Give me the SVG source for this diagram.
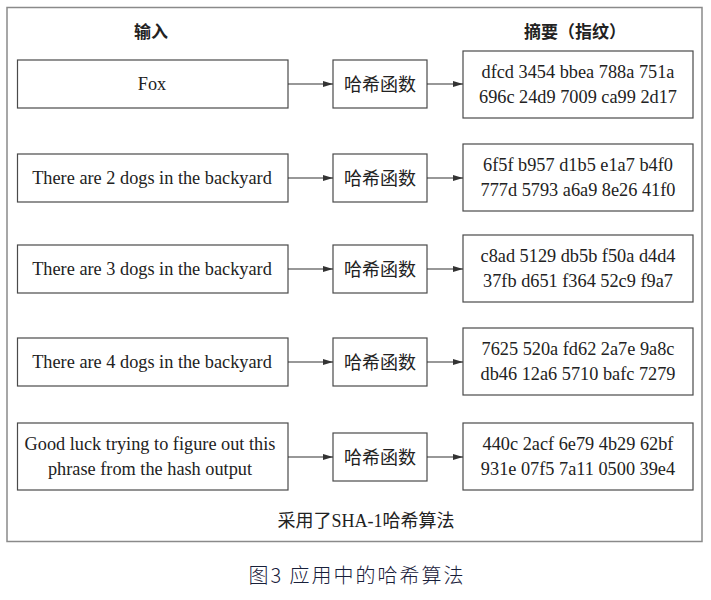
<svg xmlns="http://www.w3.org/2000/svg" width="711" height="600" viewBox="0 0 711 600">
<style>
.frame{fill:none;stroke:#8a8a8a;stroke-width:1.5}
.box{fill:#fff;stroke:#4a4a4a;stroke-width:1.2}
.en{font-family:"Liberation Serif","Noto Sans CJK SC",serif;font-size:18.3px;fill:#222;text-anchor:middle}
.cj{font-family:"Noto Sans CJK SC",sans-serif;font-size:18px;fill:#222;text-anchor:middle}
.hd{font-family:"Noto Sans CJK SC",sans-serif;font-size:17px;font-weight:bold;fill:#222;text-anchor:middle}
.hdt{font-family:"Noto Sans CJK TC",sans-serif;font-size:17px;font-weight:bold;fill:#222;text-anchor:middle}
.cap{font-family:"Liberation Serif","Noto Sans CJK SC",serif;font-size:18px;fill:#222;text-anchor:middle}
.fig{font-family:"Noto Sans CJK SC",sans-serif;font-size:20px;font-weight:300;fill:#18203a;text-anchor:middle;letter-spacing:2px}
.ln{stroke:#333;stroke-width:1.2;fill:none}
</style>
<defs>
<marker id="ah" markerWidth="10" markerHeight="8" refX="10" refY="4" orient="auto" markerUnits="userSpaceOnUse">
<path d="M0,1 L10,4 L0,7 Z" fill="#333"/>
</marker>
</defs>
<rect class="frame" x="7" y="7.5" width="695" height="534"/>
<text class="hd" x="151" y="38">输入</text>
<text class="hdt" x="575" y="38">摘要（指纹）</text>

<g id="in1"><rect class="box" x="17.5" y="60" width="270.5" height="48"/><text class="en" x="152" y="90">Fox</text></g>
<g id="h1"><rect class="box" x="333" y="60" width="94" height="48"/><text class="cj" x="380" y="91">哈希函数</text></g>
<g id="d1"><rect class="box" x="463" y="51" width="230" height="67"/><text class="en" x="578" y="78">dfcd 3454 bbea 788a 751a</text><text class="en" x="578" y="103">696c 24d9 7009 ca99 2d17</text></g>

<g id="in2"><rect class="box" x="17.5" y="154" width="270.5" height="48"/><text class="en" x="152" y="184">There are 2 dogs in the backyard</text></g>
<g id="h2"><rect class="box" x="333" y="154" width="94" height="48"/><text class="cj" x="380" y="185">哈希函数</text></g>
<g id="d2"><rect class="box" x="463" y="144" width="230" height="67"/><text class="en" x="578" y="171">6f5f b957 d1b5 e1a7 b4f0</text><text class="en" x="578" y="196">777d 5793 a6a9 8e26 41f0</text></g>

<g id="in3"><rect class="box" x="17.5" y="245" width="270.5" height="48"/><text class="en" x="152" y="275">There are 3 dogs in the backyard</text></g>
<g id="h3"><rect class="box" x="333" y="245" width="94" height="48"/><text class="cj" x="380" y="276">哈希函数</text></g>
<g id="d3"><rect class="box" x="463" y="235" width="230" height="67"/><text class="en" x="578" y="262">c8ad 5129 db5b f50a d4d4</text><text class="en" x="578" y="287">37fb d651 f364 52c9 f9a7</text></g>

<g id="in4"><rect class="box" x="17.5" y="338" width="270.5" height="48"/><text class="en" x="152" y="368">There are 4 dogs in the backyard</text></g>
<g id="h4"><rect class="box" x="333" y="338" width="94" height="48"/><text class="cj" x="380" y="369">哈希函数</text></g>
<g id="d4"><rect class="box" x="463" y="328" width="230" height="67"/><text class="en" x="578" y="355">7625 520a fd62 2a7e 9a8c</text><text class="en" x="578" y="380">db46 12a6 5710 bafc 7279</text></g>

<g id="in5"><rect class="box" x="17.5" y="423" width="270.5" height="67"/><text class="en" x="150" y="450">Good luck trying to figure out this</text><text class="en" x="150" y="475">phrase from the hash output</text></g>
<g id="h5"><rect class="box" x="333" y="433" width="94" height="48"/><text class="cj" x="380" y="464">哈希函数</text></g>
<g id="d5"><rect class="box" x="463" y="423" width="230" height="67"/><text class="en" x="578" y="450">440c 2acf 6e79 4b29 62bf</text><text class="en" x="578" y="475">931e 07f5 7a11 0500 39e4</text></g>

<g id="connectors">
<line class="ln" x1="288" y1="84" x2="333" y2="84" marker-end="url(#ah)"/>
<line class="ln" x1="427" y1="84" x2="463" y2="84" marker-end="url(#ah)"/>
<line class="ln" x1="288" y1="178" x2="333" y2="178" marker-end="url(#ah)"/>
<line class="ln" x1="427" y1="178" x2="463" y2="178" marker-end="url(#ah)"/>
<line class="ln" x1="288" y1="269" x2="333" y2="269" marker-end="url(#ah)"/>
<line class="ln" x1="427" y1="269" x2="463" y2="269" marker-end="url(#ah)"/>
<line class="ln" x1="288" y1="362" x2="333" y2="362" marker-end="url(#ah)"/>
<line class="ln" x1="427" y1="362" x2="463" y2="362" marker-end="url(#ah)"/>
<line class="ln" x1="288" y1="457" x2="333" y2="457" marker-end="url(#ah)"/>
<line class="ln" x1="427" y1="457" x2="463" y2="457" marker-end="url(#ah)"/>
</g>

<text class="cap" x="366" y="527">采用了SHA-1哈希算法</text>
<text class="fig" x="357" y="583">图3 应用中的哈希算法</text>
</svg>
